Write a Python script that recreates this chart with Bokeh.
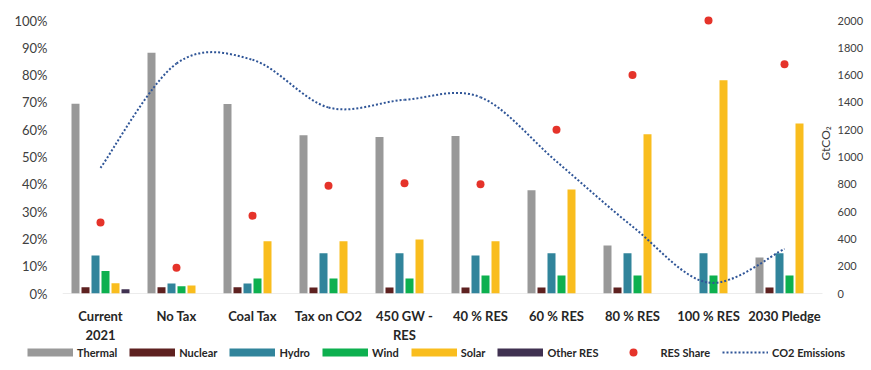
import math

from bokeh.embed import file_html
from bokeh.models import (FixedTicker, Label, Legend, LegendItem, LinearAxis,
                          NumeralTickFormatter, Range1d)
from bokeh.plotting import figure
from bokeh.resources import INLINE

# ---- data -------------------------------------------------------------
scenarios = ["Current\n2021", "No Tax", "Coal Tax", "Tax on CO2", "450 GW -\nRES",
             "40 % RES", "60 % RES", "80 % RES", "100 % RES", "2030 Pledge"]

thermal = [69.5, 88.2, 69.4, 58.0, 57.3, 57.7, 37.8, 17.6, 0.0, 13.2]
nuclear = [2.3, 2.3, 2.3, 2.2, 2.2, 2.2, 2.2, 2.2, 0.0, 2.2]
hydro = [13.9, 3.7, 3.7, 14.7, 14.7, 13.9, 14.7, 14.7, 14.7, 14.7]
wind = [8.2, 2.7, 5.5, 5.5, 5.5, 6.6, 6.6, 6.6, 6.6, 6.6]
solar = [3.8, 2.9, 19.1, 19.1, 19.8, 19.1, 38.1, 58.3, 78.1, 62.3]
other_res = [1.6, 0, 0, 0, 0, 0, 0, 0, 0, 0]

res_share = [26.0, 9.4, 28.5, 39.5, 40.4, 40.0, 60.0, 80.0, 100.0, 84.0]  # %
co2_emissions = [920, 1685, 1712, 1363, 1419, 1438, 967, 491, 80, 327]   # GtCO2

pct_ticks = [0, 0.1, 0.2, 0.3, 0.4, 0.5, 0.6, 0.7, 0.8, 0.9, 1.0]
co2_ticks = [0, 200, 400, 600, 800, 1000, 1200, 1400, 1600, 1800, 2000]

# ---- styling ----------------------------------------------------------
FONT = "Lato"
series = [
    ("Thermal", thermal, "#999999"),
    ("Nuclear", nuclear, "#5e2120"),
    ("Hydro", hydro, "#31849b"),
    ("Wind", wind, "#0db04f"),
    ("Solar", solar, "#f9bd1e"),
    ("Other RES", other_res, "#403151"),
]
DOT_RED = "#e5332a"
LINE_BLUE = "#2f5597"
LINE_DASH = "2 2"

n = len(scenarios)
centers = [i + 0.5 for i in range(n)]
px = 76.0                      # pixels per category slot
bar_w = 8 / px
offsets = [(-25 + 10 * k) / px for k in range(len(series))]

# main chart: frame 770 x 281 px, with a little head-room above 100 % and
# room at the right for the rotated unit label
PCT_TOP = 281 / 273
p = figure(width=871, height=345, output_backend="svg", toolbar_location=None,
           x_range=Range1d(0, 770 / px), y_range=Range1d(0, PCT_TOP),
           min_border_left=62, min_border_right=39, min_border_top=12,
           min_border_bottom=52, background_fill_color="white",
           border_fill_color="white")
p.outline_line_color = None
p.grid.visible = False
p.extra_y_ranges = {"co2": Range1d(0, 2000 * PCT_TOP)}

# baseline under the scenario slots
p.segment(x0=[0], x1=[n], y0=[0], y1=[0], line_color="#d9d9d9", line_width=1)

# ---- bars -------------------------------------------------------------
for k, (name, vals, color) in enumerate(series):
    p.vbar(x=[c + offsets[k] for c in centers], top=[v / 100 for v in vals],
           width=bar_w, bottom=0, fill_color=color, line_color=None)

# ---- CO2 emissions: smoothed curve through the scenario values -------
xs0, ys0, cx0s, cy0s, cx1s, cy1s, xs1, ys1 = ([] for _ in range(8))
for i in range(n - 1):
    xa, ya = centers[i], co2_emissions[i]
    xb, yb = centers[i + 1], co2_emissions[i + 1]
    xm, ym = (centers[i - 1], co2_emissions[i - 1]) if i > 0 else (xa, ya)
    xp, yp = (centers[i + 2], co2_emissions[i + 2]) if i + 2 < n else (xb, yb)
    xs0.append(xa); ys0.append(ya); xs1.append(xb); ys1.append(yb)
    cx0s.append(xa + (xb - xm) / 6); cy0s.append(ya + (yb - ym) / 6)
    cx1s.append(xb - (xp - xa) / 6); cy1s.append(yb - (yp - ya) / 6)

p.bezier(x0=xs0, y0=ys0, x1=xs1, y1=ys1, cx0=cx0s, cy0=cy0s, cx1=cx1s, cy1=cy1s,
         line_color=LINE_BLUE, line_width=2, line_dash=LINE_DASH, y_range_name="co2")

# ---- RES share dots ---------------------------------------------------
p.scatter(x=centers, y=[v / 100 for v in res_share], size=8,
          fill_color=DOT_RED, line_color=None)

# ---- axes -------------------------------------------------------------
xax = p.xaxis[0]
xax.ticker = FixedTicker(ticks=centers)
xax.major_label_overrides = {c: s for c, s in zip(centers, scenarios)}
xax.major_tick_line_color = None
xax.major_tick_out = 0
xax.minor_tick_line_color = None
xax.axis_line_color = None
xax.major_label_standoff = 14
xax.major_label_text_font = FONT
xax.major_label_text_font_style = "bold"
xax.major_label_text_font_size = "13px"
xax.major_label_text_color = "#262626"

yax = p.yaxis[0]
yax.ticker = FixedTicker(ticks=pct_ticks)
yax.formatter = NumeralTickFormatter(format="0%")
yax.axis_line_color = None
yax.major_tick_line_color = None
yax.major_tick_out = 0
yax.minor_tick_line_color = None
yax.major_label_standoff = 15
yax.major_label_text_font = FONT
yax.major_label_text_font_size = "13px"
yax.major_label_text_color = "#404040"

right = LinearAxis(y_range_name="co2", ticker=FixedTicker(ticks=co2_ticks))
right.axis_line_color = None
right.major_tick_line_color = None
right.major_tick_out = 0
right.minor_tick_line_color = None
right.major_label_standoff = 5
right.major_label_text_font = FONT
right.major_label_text_font_size = "11px"
right.major_label_text_color = "#404040"
p.add_layout(right, "right")

p.add_layout(Label(x=763 / px, y=1100, y_range_name="co2", text="GtCO\u2082",
                   angle=math.pi / 2, text_align="center", text_baseline="middle",
                   text_font=FONT, text_font_size="12px",
                   text_color="#404040"))

# ---- legend strip (own root, full-width frame) ------------------------
lg = figure(width=871, height=25, output_backend="svg", toolbar_location=None,
            x_range=Range1d(0, 871), y_range=Range1d(0, 25),
            x_axis_type=None, y_axis_type=None, min_border=0,
            background_fill_color="white", border_fill_color="white")
lg.outline_line_color = None
lg.grid.visible = False

off = dict(x=[-10, -5], y=[-10, -10])   # keys sit outside the strip's view
items = []
for name, _, color in series:
    r = lg.line(line_color=color, line_width=8, **off)
    items.append(LegendItem(label=name, renderers=[r]))
r_dot = lg.scatter(x=[-10], y=[-10], size=8, fill_color=DOT_RED, line_color=None)
items.append(LegendItem(label="RES Share", renderers=[r_dot]))
r_co2 = lg.line(line_color=LINE_BLUE, line_width=2, line_dash=LINE_DASH, **off)
items.append(LegendItem(label="CO2 Emissions", renderers=[r_co2]))

legend = Legend(items=items, location=(27, 8), orientation="horizontal")
legend.background_fill_alpha = 0
legend.border_line_color = None
legend.padding = 0
legend.margin = 0
legend.glyph_width = 46
legend.glyph_height = 20
legend.label_standoff = 4
legend.spacing = 12
legend.label_text_font = FONT
legend.label_text_font_style = "bold"
legend.label_text_font_size = "11px"
legend.label_text_color = "#262626"
legend.label_height = 12
lg.add_layout(legend, "center")

open("out.html", "w").write(file_html([p, lg], INLINE))
